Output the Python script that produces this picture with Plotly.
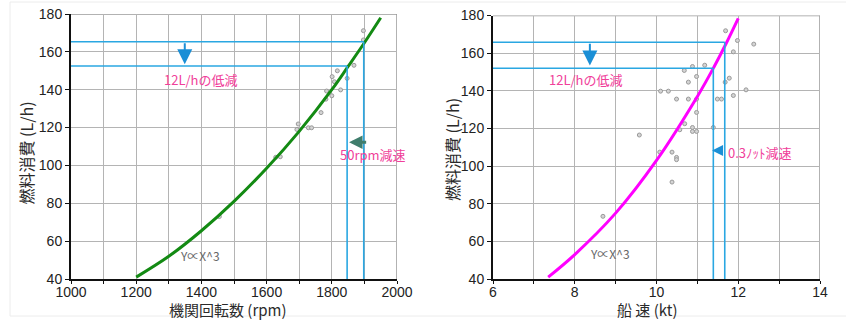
import plotly.graph_objects as go

W, H = 846, 320

# ---- Left chart: engine rpm vs fuel consumption ----
rpm_curve_x = [1200, 1300, 1400, 1500, 1600, 1700, 1800, 1850, 1900, 1950]
rpm_curve_y = [41, 52, 65.5, 81, 98.5, 118, 140, 152.3, 164.8, 178]

rpm_pts_x = [1897, 1897, 1868, 1817, 1801, 1808, 1847, 1827, 1784, 1800, 1782,
             1767, 1697, 1693, 1728, 1738, 1642, 1628, 1455]
rpm_pts_y = [171.2, 166.3, 152.9, 150, 146.9, 144.2, 146, 139.9, 139.3, 136.8, 135,
             127.9, 121.9, 119, 119.9, 119.9, 104.6, 104.3, 73]

# ---- Right chart: ship speed vs fuel consumption ----
kt_curve_x = [7.35, 8.0, 9.0, 10.0, 11.0, 11.4, 11.7, 12.0]
kt_curve_y = [41, 53, 75, 103, 137, 152.4, 165, 178.5]

kt_pts_x = [11.69, 11.98, 12.38, 11.88, 11.18, 10.88, 10.68, 10.98, 11.78, 11.68,
            10.78, 10.10, 10.29, 12.19, 11.88, 10.49, 10.78, 10.98, 11.49, 11.59,
            10.98, 10.69, 10.57, 10.88, 10.88, 10.98, 11.39, 9.58, 10.08, 10.38,
            10.49, 10.49, 10.38, 8.69]
kt_pts_y = [171.9, 166.7, 164.8, 160.7, 153.6, 152.9, 150.8, 147.6, 146.7, 144.6,
            144.6, 139.8, 139.8, 140.5, 137.5, 135.6, 135.6, 135.6, 135.6, 135.6,
            128.5, 122.5, 119.3, 120.5, 118.4, 118.4, 120.5, 116.5, 107.4, 107.4,
            104.6, 103.4, 91.5, 73.3]

# reduction guide levels
rpm_levels = [165.3, 152.5]
rpm_marks = [1898, 1847]
kt_levels = [165.8, 152.0]
kt_marks = [11.67, 11.39]

y_ticks = [40, 60, 80, 100, 120, 140, 160, 180]
rpm_ticks = [1000, 1200, 1400, 1600, 1800, 2000]
rpm_minor = [1100, 1300, 1500, 1700, 1900]
kt_ticks = [6, 8, 10, 12, 14]
kt_minor = [7, 9, 11, 13]

BLUE = "#2aa7e2"
PINK = "#f0409a"
GRID = "#b4b4b4"

fig = go.Figure()

marker = dict(size=4, color="#d4d4d4", line=dict(color="#9a9a9a", width=1))

fig.add_trace(go.Scatter(x=rpm_pts_x, y=rpm_pts_y, mode="markers", marker=marker,
                         xaxis="x", yaxis="y", showlegend=False))
fig.add_trace(go.Scatter(x=rpm_curve_x, y=rpm_curve_y, mode="lines",
                         line=dict(color="#138a13", width=3, shape="spline"),
                         xaxis="x", yaxis="y", showlegend=False))
fig.add_trace(go.Scatter(x=kt_pts_x, y=kt_pts_y, mode="markers", marker=marker,
                         xaxis="x2", yaxis="y2", showlegend=False))
fig.add_trace(go.Scatter(x=kt_curve_x, y=kt_curve_y, mode="lines",
                         line=dict(color="#ff00ff", width=3, shape="spline"),
                         xaxis="x2", yaxis="y2", showlegend=False))

shapes = []
# top/right frame
for xr, yr, x0, x1 in [("x", "y", 1000, 2000), ("x2", "y2", 6, 14)]:
    shapes.append(dict(type="line", xref=xr, yref=yr, x0=x0, x1=x1, y0=180, y1=180,
                       line=dict(color="#999999", width=1.5), layer="below"))
    shapes.append(dict(type="line", xref=xr, yref=yr, x0=x1, x1=x1, y0=40, y1=180,
                       line=dict(color="#999999", width=1.5), layer="below"))
# guide lines
for xr, yr, x0, levels, marks in [("x", "y", 1000, rpm_levels, rpm_marks),
                                  ("x2", "y2", 6, kt_levels, kt_marks)]:
    for lv, mk in zip(levels, marks):
        shapes.append(dict(type="line", xref=xr, yref=yr, x0=x0, x1=mk, y0=lv, y1=lv,
                           line=dict(color=BLUE, width=1.6)))
        shapes.append(dict(type="line", xref=xr, yref=yr, x0=mk, x1=mk, y0=40, y1=lv,
                           line=dict(color=BLUE, width=1.6)))

# faint outer frame
shapes.append(dict(type="line", xref="paper", yref="paper", x0=10/W, x1=1, y0=1-2/H, y1=1-2/H,
                   line=dict(color="#ececec", width=1)))
shapes.append(dict(type="line", xref="paper", yref="paper", x0=10/W, x1=10/W, y0=1-2/H, y1=1-316/H,
                   line=dict(color="#ececec", width=1)))
shapes.append(dict(type="line", xref="paper", yref="paper", x0=10/W, x1=1, y0=1-316/H, y1=1-316/H,
                   line=dict(color="#ececec", width=1)))

JP = "Noto Sans CJK JP"
C = dict(xanchor="center", yanchor="middle", showarrow=False)
annotations = [
    # arrows
    dict(x=1349, y=153.5, ax=1349, ay=165.3, xref="x", yref="y", axref="x", ayref="y",
         showarrow=True, arrowhead=2, arrowsize=1.5, arrowwidth=2, arrowcolor="#1b8fd6", text=""),
    dict(x=1853, y=112.3, ax=1910, ay=112.3, xref="x", yref="y", axref="x", ayref="y",
         showarrow=True, arrowhead=2, arrowsize=0.9, arrowwidth=3, arrowcolor="#3f7d6c", text=""),
    dict(x=8.37, y=153.5, ax=8.37, ay=165.8, xref="x2", yref="y2", axref="x2", ayref="y2",
         showarrow=True, arrowhead=2, arrowsize=1.5, arrowwidth=2, arrowcolor="#1b8fd6", text=""),
    dict(x=11.36, y=108.3, ax=11.66, ay=108.3, xref="x2", yref="y2", axref="x2", ayref="y2",
         showarrow=True, arrowhead=2, arrowsize=1.1, arrowwidth=2, arrowcolor="#1b8fd6", text=""),
    # labels
    dict(x=1396, y=145.2, xref="x", yref="y", text="12L/hの低減",
         font=dict(family=JP, size=13, color=PINK), **C),
    dict(x=1926, y=105.6, xref="x", yref="y", text="50rpm減速",
         font=dict(family=JP, size=13, color=PINK), **C),
    dict(x=1396, y=52.5, xref="x", yref="y", text="Y∝X^3",
         font=dict(family=JP, size=12, color="#666666"), **C),
    dict(x=8.26, y=145.8, xref="x2", yref="y2", text="12L/hの低減",
         font=dict(family=JP, size=13, color=PINK), **C),
    dict(x=12.53, y=107.3, xref="x2", yref="y2", text="0.3ﾉｯﾄ減速",
         font=dict(family=JP, size=13, color=PINK), **C),
    dict(x=8.86, y=53.3, xref="x2", yref="y2", text="Y∝X^3",
         font=dict(family=JP, size=12, color="#666666"), **C),
    # axis titles
    dict(x=25.5/W, y=1-153/H, xref="paper", yref="paper", text="燃料消費 (L/h)", textangle=-90,
         font=dict(family=JP, size=16, color="#2a2a2a"), **C),
    dict(x=452/W, y=1-150/H, xref="paper", yref="paper", text="燃料消費 (L/h)", textangle=-90,
         font=dict(family=JP, size=16, color="#2a2a2a"), **C),
    dict(x=228/W, y=1-309/H, xref="paper", yref="paper", text="機関回転数 (rpm)",
         font=dict(family=JP, size=15, color="#2a2a2a"), **C),
    dict(x=647/W, y=1-309/H, xref="paper", yref="paper", text="船 速 (kt)",
         font=dict(family=JP, size=15, color="#2a2a2a"), **C),
]

tickfont = dict(family="Liberation Sans", size=14, color="#222222")

def xaxis(rng, ticks, minor, dom, anchor):
    return dict(range=rng, domain=dom, anchor=anchor, automargin=False,
                tickvals=ticks, showgrid=True, gridcolor=GRID, gridwidth=1,
                showline=True, linecolor="#111111", linewidth=2,
                ticks="outside", ticklen=3, tickcolor="#111111", tickfont=tickfont,
                ticklabelstandoff=-4,
                minor=dict(tickvals=minor, showgrid=True, gridcolor=GRID, ticks="outside",
                           ticklen=3, tickcolor="#111111"),
                zeroline=False, fixedrange=True)

def yaxis(dom, anchor):
    return dict(range=[40, 180], tickvals=y_ticks, domain=dom, anchor=anchor, automargin=False,
                showgrid=True, gridcolor=GRID, gridwidth=1,
                showline=True, linecolor="#111111", linewidth=2,
                ticks="outside", ticklen=4, tickcolor="#111111", tickfont=tickfont,
                zeroline=False, fixedrange=True)

fig.update_layout(
    width=W, height=H,
    margin=dict(l=0, r=0, t=0, b=0),
    paper_bgcolor="white", plot_bgcolor="white",
    xaxis=xaxis([1000, 2000], rpm_ticks, rpm_minor, [71/W, 397/W], "y"),
    yaxis=yaxis([1-279/H, 1-14/H], "x"),
    xaxis2=xaxis([6, 14], kt_ticks, kt_minor, [493/W, 820/W], "y2"),
    yaxis2=yaxis([1-279/H, 1-15.5/H], "x2"),
    shapes=shapes,
    annotations=annotations,
)

fig.write_html("out.html")
